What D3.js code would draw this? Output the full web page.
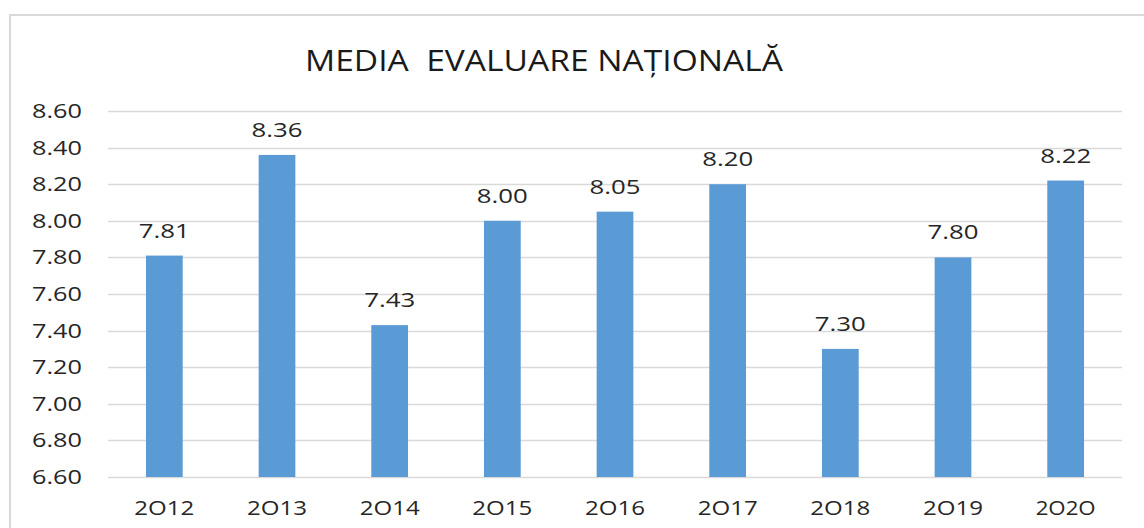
<!doctype html>
<html lang="ro">
<head>
  <meta charset="utf-8">
  <title>Media Evaluare Nationala</title>
  <script src="https://cdnjs.cloudflare.com/ajax/libs/d3/7.8.5/d3.min.js"></script>
  <style>
    body { margin: 0; background: #fff; }
    text { font-family: "Open Sans", "Noto Sans", sans-serif; white-space: pre; }
  </style>
</head>
<body>
<svg id="svg" width="1144" height="528"></svg>
<script>
  // data
  var years = ['2O12', '2O13', '2O14', '2O15', '2O16', '2O17', '2O18', '2O19', '2O2O'];
  var averages = [7.81, 8.36, 7.43, 8.00, 8.05, 8.20, 7.30, 7.80, 8.22];
  var yTicks = [6.6, 6.8, 7.0, 7.2, 7.4, 7.6, 7.8, 8.0, 8.2, 8.4, 8.6];

  var svg = d3.select('#svg');
  var plotLeft = 108, plotRight = 1122, plotTop = 111, plotBottom = 477;

  // chart frame
  svg.append('rect')
    .attr('x', 10).attr('y', 15)
    .attr('width', 1150).attr('height', 530)
    .attr('fill', '#fff')
    .attr('stroke', '#d9d9d9')
    .attr('stroke-width', 2);

  svg.append('text')
    .attr('x', 544).attr('y', 71)
    .attr('text-anchor', 'middle')
    .attr('font-size', 30)
    .attr('fill', '#1a1a1a')
    .attr('textLength', 478)
    .attr('lengthAdjust', 'spacingAndGlyphs')
    .text('MEDIA  EVALUARE NAȚIONALĂ');

  var x = d3.scaleBand()
    .domain(years)
    .range([plotLeft, plotRight])
    .paddingInner(0.674)
    .paddingOuter(0.337);

  var y = d3.scaleLinear()
    .domain([6.6, 8.6])
    .range([plotBottom, plotTop]);

  // gridlines
  svg.selectAll('line.grid')
    .data(yTicks)
    .enter()
    .append('line')
    .attr('class', 'grid')
    .attr('x1', plotLeft).attr('x2', plotRight)
    .attr('y1', function(d) { return Math.round(y(d)) + 0.5; })
    .attr('y2', function(d) { return Math.round(y(d)) + 0.5; })
    .attr('stroke', '#d9d9d9')
    .attr('stroke-width', 1.5);

  // y labels
  svg.selectAll('text.ylab')
    .data(yTicks)
    .enter()
    .append('text')
    .attr('class', 'ylab')
    .attr('x', 82)
    .attr('y', function(d) { return y(d) + 7; })
    .attr('text-anchor', 'end')
    .attr('font-size', 20)
    .attr('fill', '#262626')
    .attr('textLength', 50)
    .attr('lengthAdjust', 'spacingAndGlyphs')
    .text(function(d) { return d3.format('.2f')(d); });

  // bars
  svg.selectAll('rect.bar')
    .data(averages)
    .enter()
    .append('rect')
    .attr('class', 'bar')
    .attr('x', function(d, i) { return x(years[i]); })
    .attr('y', function(d) { return y(d); })
    .attr('width', x.bandwidth())
    .attr('height', function(d) { return y(6.6) - y(d); })
    .attr('fill', '#5b9bd5');

  // value labels
  svg.selectAll('text.val')
    .data(averages)
    .enter()
    .append('text')
    .attr('class', 'val')
    .attr('x', function(d, i) { return x(years[i]) + x.bandwidth() / 2; })
    .attr('y', function(d) { return y(d) - 18; })
    .attr('text-anchor', 'middle')
    .attr('font-size', 20)
    .attr('fill', '#262626')
    .attr('textLength', 51)
    .attr('lengthAdjust', 'spacingAndGlyphs')
    .text(function(d) { return d3.format('.2f')(d); });

  // category labels
  svg.selectAll('text.xlab')
    .data(years)
    .enter()
    .append('text')
    .attr('class', 'xlab')
    .attr('x', function(d) { return x(d) + x.bandwidth() / 2; })
    .attr('y', 515)
    .attr('text-anchor', 'middle')
    .attr('font-size', 20)
    .attr('fill', '#262626')
    .attr('textLength', 60)
    .attr('lengthAdjust', 'spacingAndGlyphs')
    .text(function(d) { return d; });
</script>
</body>
</html>
